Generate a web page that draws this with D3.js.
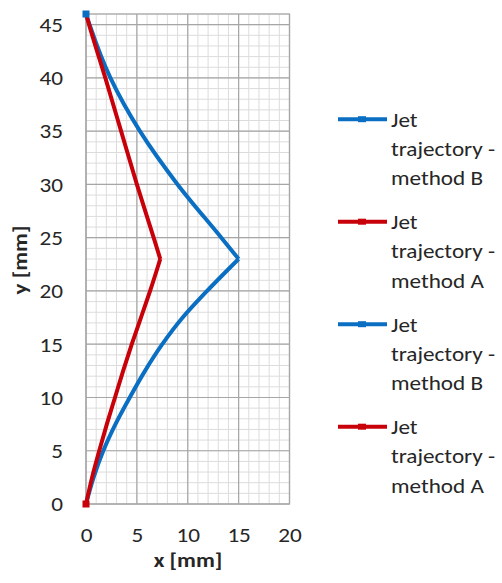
<!DOCTYPE html>
<html>
<head>
<meta charset="utf-8">
<script src="https://cdn.jsdelivr.net/npm/d3@7"></script>
<style>
  body { margin: 0; background: #fff; }
  text { font-family: Carlito, Calibri, "Open Sans", sans-serif; fill: #262626; }
  .tick-label { font-size: 20px; }
  .axis-title { font-size: 20px; font-weight: bold; }
  .legend-text { font-size: 20px; }
</style>
</head>
<body>
<svg id="chart" width="502" height="583"></svg>
<script>
// y values along the trajectory [mm] and jet offset x [mm]
const yLower = [0, 2.5, 5, 7.5, 10, 12.5, 15, 17.5, 20, 23];
const xLowerA = [0, 0.6, 1.3, 2.05, 2.85, 3.65, 4.5, 5.4, 6.3, 7.3];
const xLowerB = [0, 0.75, 1.7, 2.9, 4.3, 5.8, 7.5, 9.5, 11.9, 15];

const yUpper = [23, 25, 30, 35, 40, 45, 46];
const xUpperA = [7.3, 6.65, 5.0, 3.45, 1.9, 0.3, 0];
const xUpperB = [15, 13.3, 9.0, 5.3, 2.4, 0.35, 0];

const xTicks = [0, 5, 10, 15, 20];
const yTicks = [0, 5, 10, 15, 20, 25, 30, 35, 40, 45];

const blue = "#0a6fc2", red = "#c8000a";
const sx = 1.16; // horizontal stretch of the text in the picture

const series = [
  { name: "Jet trajectory - method B", color: blue, xs: xUpperB, ys: yUpper },
  { name: "Jet trajectory - method A", color: red, xs: xUpperA, ys: yUpper },
  { name: "Jet trajectory - method B", color: blue, xs: xLowerB, ys: yLower },
  { name: "Jet trajectory - method A", color: red, xs: xLowerA, ys: yLower }
];

const svg = d3.select("#chart");
const plot = { left: 86, right: 289.5, top: 14, bottom: 504 };

const x = d3.scaleLinear().domain([0, 20]).range([plot.left, plot.right]);
const y = d3.scaleLinear().domain([0, 46]).range([plot.bottom, plot.top]);

const grid = svg.append("g");
// minor grid
grid.selectAll(".vminor").data(d3.range(0, 21)).enter().append("line")
  .attr("x1", d => x(d)).attr("x2", d => x(d))
  .attr("y1", plot.top).attr("y2", plot.bottom)
  .attr("stroke", "#dcdcdc").attr("stroke-width", 1);
grid.selectAll(".hminor").data(d3.range(0, 47)).enter().append("line")
  .attr("x1", plot.left).attr("x2", plot.right)
  .attr("y1", d => y(d)).attr("y2", d => y(d))
  .attr("stroke", "#dcdcdc").attr("stroke-width", 1);
// major grid
grid.selectAll(".vmajor").data(xTicks).enter().append("line")
  .attr("x1", d => x(d)).attr("x2", d => x(d))
  .attr("y1", plot.top).attr("y2", plot.bottom)
  .attr("stroke", "#a6a6a6").attr("stroke-width", 1.2);
grid.selectAll(".hmajor").data(yTicks).enter().append("line")
  .attr("x1", plot.left).attr("x2", plot.right)
  .attr("y1", d => y(d)).attr("y2", d => y(d))
  .attr("stroke", "#a6a6a6").attr("stroke-width", 1.2);
grid.append("rect")
  .attr("x", plot.left).attr("y", plot.top)
  .attr("width", plot.right - plot.left).attr("height", plot.bottom - plot.top)
  .attr("fill", "none").attr("stroke", "#a6a6a6").attr("stroke-width", 1.2);

// axes (labels only)
const xAxis = svg.append("g")
  .attr("transform", `translate(0,${plot.bottom})`)
  .call(d3.axisBottom(x).tickValues(xTicks).tickSize(0));
xAxis.select(".domain").remove();
xAxis.selectAll("text").attr("class", "tick-label").attr("fill", "#262626")
  .attr("y", 38).attr("dy", 0)
  .attr("transform", `scale(${sx},1)`);

const yAxis = svg.append("g")
  .attr("transform", `translate(${plot.left},0)`)
  .call(d3.axisLeft(y).tickValues(yTicks).tickSize(0));
yAxis.select(".domain").remove();
yAxis.selectAll("text").attr("class", "tick-label").attr("fill", "#262626")
  .attr("x", -23 / sx).attr("dy", "0.34em")
  .attr("transform", `scale(${sx},1)`);

svg.append("text").attr("class", "axis-title")
  .attr("transform", `translate(188,567) scale(${sx},1)`)
  .attr("text-anchor", "middle")
  .text("x [mm]");
svg.append("text").attr("class", "axis-title")
  .attr("transform", `translate(27,260) rotate(-90) scale(${sx},1)`)
  .attr("text-anchor", "middle")
  .text("y [mm]");

// lines
const line = d3.line().x(d => x(d[0])).y(d => y(d[1])).curve(d3.curveMonotoneY);
svg.append("g").selectAll("path")
  .data(series).enter().append("path")
  .attr("d", s => line(d3.zip(s.xs, s.ys)))
  .attr("fill", "none")
  .attr("stroke", s => s.color)
  .attr("stroke-width", 4)
  .attr("stroke-linejoin", "miter");

// end markers
svg.append("rect").attr("x", x(0) - 3.5).attr("y", y(0) - 3.5)
  .attr("width", 7).attr("height", 7).attr("fill", red);
svg.append("rect").attr("x", x(0) - 3.5).attr("y", y(46) - 3.5)
  .attr("width", 7).attr("height", 7).attr("fill", blue);

// legend
const legend = svg.append("g");
const entry = legend.selectAll("g").data(series).enter().append("g")
  .attr("transform", (d, i) => `translate(0,${119.2 + i * 102.5})`);
entry.append("line")
  .attr("x1", 338).attr("x2", 387).attr("y1", 0).attr("y2", 0)
  .attr("stroke", d => d.color).attr("stroke-width", 4);
entry.append("rect").attr("x", 358).attr("y", -3).attr("width", 8).attr("height", 6)
  .attr("fill", d => d.color);
entry.append("text").attr("class", "legend-text")
  .attr("transform", `translate(391,7.3) scale(${sx},1)`)
  .selectAll("tspan")
  .data(d => ["Jet", "trajectory -", d.name.split(" - ")[1]])
  .enter().append("tspan")
  .attr("x", 0).attr("y", (d, i) => i * 29.5)
  .text(d => d);
</script>
</body>
</html>
